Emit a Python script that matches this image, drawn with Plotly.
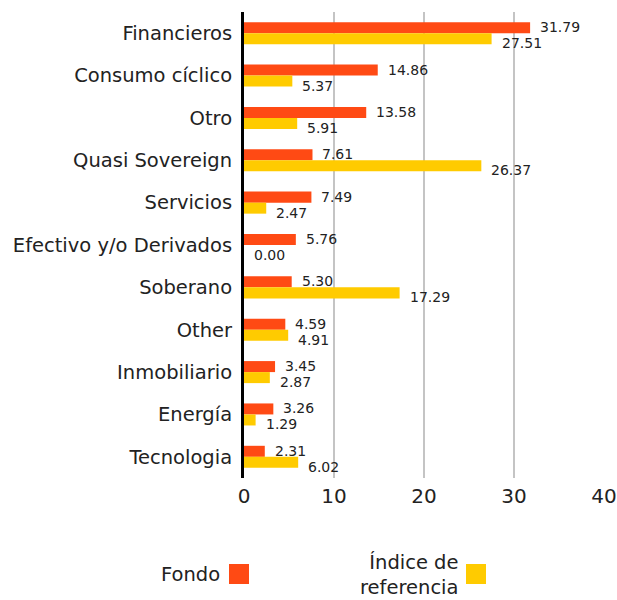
import plotly.graph_objects as go

categories = ["Financieros", "Consumo cíclico", "Otro", "Quasi Sovereign", "Servicios",
              "Efectivo y/o Derivados", "Soberano", "Other", "Inmobiliario", "Energía", "Tecnologia"]
fondo = [31.79, 14.86, 13.58, 7.61, 7.49, 5.76, 5.30, 4.59, 3.45, 3.26, 2.31]
indice = [27.51, 5.37, 5.91, 26.37, 2.47, 0.00, 17.29, 4.91, 2.87, 1.29, 6.02]
series_names = ["Fondo", "Índice de<br>referencia"]
colors = ["#FF4A14", "#FFCB00"]
x_ticks = [0, 10, 20, 30, 40]

FONT = "DejaVu Sans, sans-serif"
W, H = 617, 600
ML, MR, MT, MB = 244, 13, 12, 122

fig = go.Figure()
for name, vals, col in zip(series_names, [fondo, indice], colors):
    fig.add_trace(go.Bar(y=categories, x=vals, orientation="h", name=name,
                         marker=dict(color=col, line=dict(width=0)), showlegend=False))

annotations = []
for vals, ysh in [(fondo, 6), (indice, -10)]:
    for c, v in zip(categories, vals):
        annotations.append(dict(x=v, y=c, xref="x", yref="y", text=f"{v:.2f}",
                                showarrow=False, xanchor="left", yanchor="middle",
                                xshift=8, yshift=ysh,
                                font=dict(family=FONT, size=14, color="#222")))

pw = W - ML - MR
ph = H - MT - MB
def px2paper(px, py):
    return (px - ML) / pw, (H - MB - py) / ph

shapes = []
legend_items = [(series_names[0], colors[0], 222, 229), (series_names[1], colors[1], 460, 466)]
for text, col, text_right, box_left in legend_items:
    tx, ty = px2paper(text_right, 575)
    annotations.append(dict(x=tx, y=ty, xref="paper", yref="paper", text=text, showarrow=False,
                            xanchor="right", yanchor="middle", align="right",
                            font=dict(family=FONT, size=19.5, color="#222")))
    x0, y0 = px2paper(box_left, 584)
    x1, y1 = px2paper(box_left + 20, 564)
    shapes.append(dict(type="rect", xref="paper", yref="paper", x0=x0, x1=x1, y0=y0, y1=y1,
                       fillcolor=col, line=dict(width=0)))

fig.update_layout(
    width=W, height=H,
    margin=dict(l=ML, r=MR, t=MT, b=MB, autoexpand=False),
    barmode="group", bargap=0.48, bargroupgap=0,
    plot_bgcolor="white", paper_bgcolor="white",
    font=dict(family=FONT, color="#222"),
    annotations=annotations, shapes=shapes,
    xaxis=dict(range=[0, 40], tickvals=x_ticks, showgrid=True, gridcolor="#c4c4c4", gridwidth=2,
               zeroline=False, showline=False, tickfont=dict(size=20), ticks="", automargin=False,
               ticklabelstandoff=4),
    yaxis=dict(autorange="reversed", showline=True, linecolor="black", linewidth=3,
               tickfont=dict(size=19.5), ticks="", ticklabelstandoff=5, showgrid=False,
               automargin=False),
)
fig.write_html("out.html")
